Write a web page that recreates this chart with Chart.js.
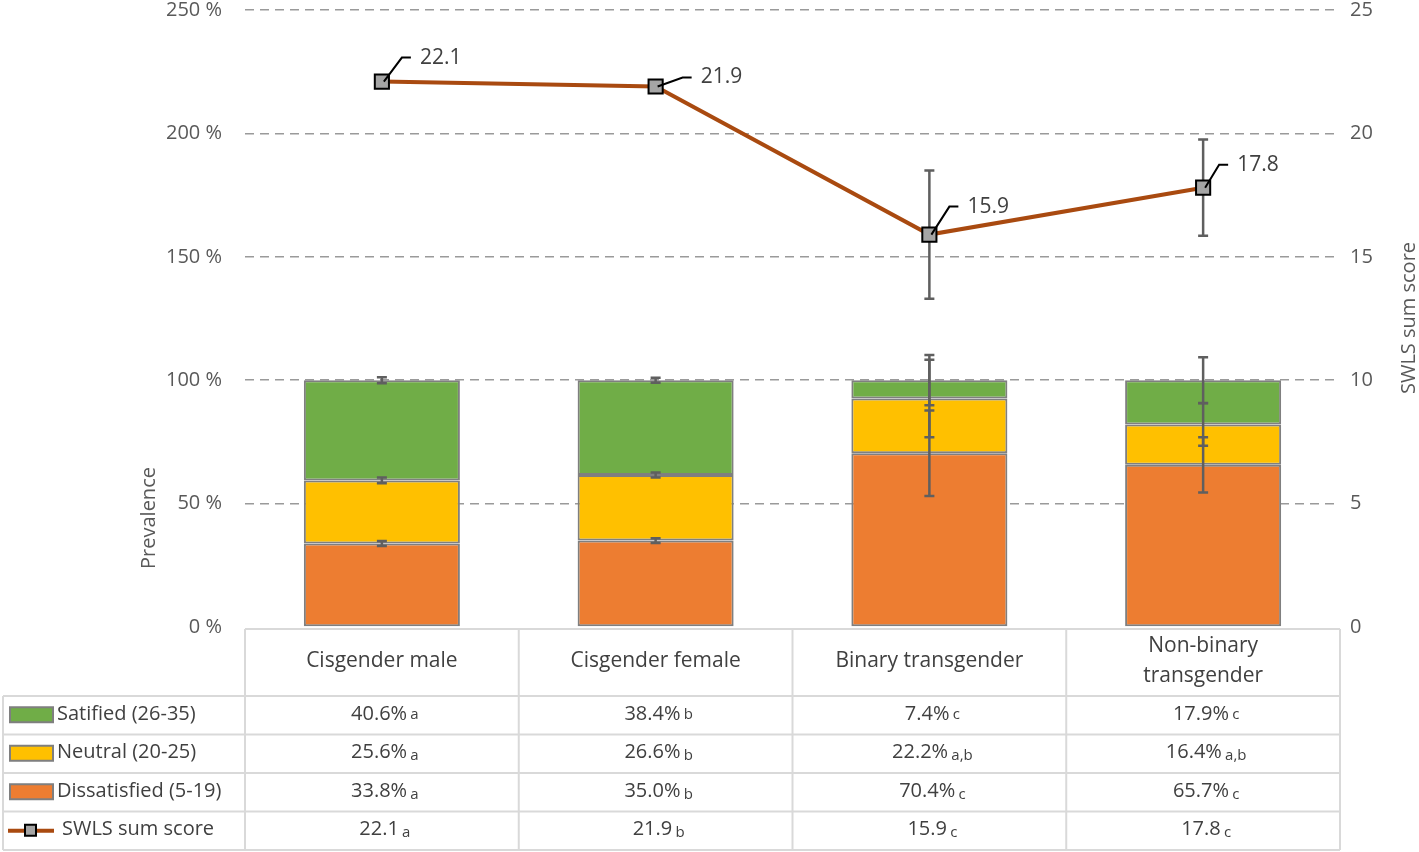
<!DOCTYPE html>
<html>
<head>
<meta charset="utf-8">
<script src="https://cdn.jsdelivr.net/npm/chart.js@4.4.1/dist/chart.umd.min.js"></script>
<style>
  html, body { margin: 0; padding: 0; background: #fff; }
  #wrap { width: 1419px; height: 852px; }
</style>
</head>
<body>
<div id="wrap"><canvas id="chart" width="1419" height="852"></canvas></div>
<script>
// data
const categories = ["Cisgender male", "Cisgender female", "Binary transgender", "Non-binary transgender"];
const headerLines = [["Cisgender male"], ["Cisgender female"], ["Binary transgender"], ["Non-binary", "transgender"]];

const dissatisfied = [33.8, 35.0, 70.4, 65.7];
const neutral = [25.6, 26.6, 22.2, 16.4];
const satisfied = [40.6, 38.4, 7.4, 17.9];
const swls = [22.1, 21.9, 15.9, 17.8];

const dissatisfiedErr = [1.0, 1.0, 17.3, 11.2];
const neutralErr = [1.2, 1.0, 15.7, 8.7];
const satisfiedErr = [1.2, 1.0, 10.2, 9.3];
const swlsErr = [0, 0, 2.6, 1.95];

const satisfiedSig = ["a", "b", "c", "c"];
const neutralSig = ["a", "b", "a,b", "a,b"];
const dissatisfiedSig = ["a", "b", "c", "c"];
const swlsSig = ["a", "b", "c", "c"];

const leftTicks = [0, 50, 100, 150, 200, 250];
const rightTicks = [0, 5, 10, 15, 20, 25];

const GREEN = "#70AD47", YELLOW = "#FFC000", ORANGE = "#ED7D31";
const LINE = "#A94A10", MARKER = "#A5A5A5", EDGE = "#7F7F7F";
const TXT = "#404040", TICK = "#595959", ERR = "#5f5f5f";
const FONT = "'Open Sans', sans-serif";

Chart.defaults.font.family = FONT;

function fmtPct(v) { return v.toFixed(1) + "%"; }

// error bars, drawn after the bars and before the line
const errorBars = {
  id: "errorBars",
  beforeDatasetDraw(chart, args) {
    if (args.index !== 3) return;
    const ctx = chart.ctx, x = chart.scales.x, y = chart.scales.y, y1 = chart.scales.y1;
    ctx.save();
    ctx.strokeStyle = ERR;
    ctx.lineWidth = 2.5;
    function bar(px, lo, hi) {
      ctx.beginPath();
      ctx.moveTo(px, lo); ctx.lineTo(px, hi);
      ctx.moveTo(px - 5, lo); ctx.lineTo(px + 5, lo);
      ctx.moveTo(px - 5, hi); ctx.lineTo(px + 5, hi);
      ctx.stroke();
    }
    categories.forEach(function (c, i) {
      const px = x.getPixelForValue(i);
      const tops = [dissatisfied[i], dissatisfied[i] + neutral[i], dissatisfied[i] + neutral[i] + satisfied[i]];
      const errs = [dissatisfiedErr[i], neutralErr[i], satisfiedErr[i]];
      tops.forEach(function (t, k) {
        bar(px, y.getPixelForValue(t - errs[k]), y.getPixelForValue(t + errs[k]));
      });
      if (swlsErr[i] > 0) {
        bar(px, y1.getPixelForValue(swls[i] - swlsErr[i]), y1.getPixelForValue(swls[i] + swlsErr[i]));
      }
    });
    ctx.restore();
  }
};

// callout labels on the SWLS line (Excel style leader lines)
const lineLabels = {
  id: "lineLabels",
  afterDatasetsDraw(chart) {
    const ctx = chart.ctx;
    const meta = chart.getDatasetMeta(3);
    const elbows = [[20, -24], [27, -9], [20, -28], [16, -23]];
    ctx.save();
    ctx.strokeStyle = "#000";
    ctx.lineWidth = 2;
    ctx.fillStyle = TXT;
    ctx.font = "21px " + FONT;
    ctx.textAlign = "left";
    ctx.textBaseline = "middle";
    meta.data.forEach(function (pt, i) {
      const ex = pt.x + elbows[i][0], ey = pt.y + elbows[i][1];
      ctx.beginPath();
      ctx.moveTo(pt.x + 2, pt.y);
      ctx.lineTo(ex, ey);
      ctx.lineTo(ex + 9, ey);
      ctx.stroke();
      ctx.fillText(swls[i].toFixed(1), ex + 18, ey);
    });
    ctx.restore();
  }
};

// axis titles
const axisTitles = {
  id: "axisTitles",
  afterDraw(chart) {
    const ctx = chart.ctx;
    ctx.save();
    ctx.fillStyle = TICK;
    ctx.font = "20px " + FONT;
    ctx.textAlign = "center";
    ctx.textBaseline = "middle";
    ctx.translate(149, 518);
    ctx.rotate(-Math.PI / 2);
    ctx.fillText("Prevalence", 0, 0);
    ctx.restore();
    ctx.save();
    ctx.fillStyle = TICK;
    ctx.font = "20px " + FONT;
    ctx.textAlign = "center";
    ctx.textBaseline = "middle";
    ctx.translate(1409, 318);
    ctx.rotate(-Math.PI / 2);
    ctx.fillText("SWLS sum score", 0, 0);
    ctx.restore();
  }
};

// data table under the plot
const dataTable = {
  id: "dataTable",
  afterDraw(chart) {
    const ctx = chart.ctx, a = chart.chartArea;
    const n = categories.length;
    const colW = (a.right - a.left) / n;
    const headTop = a.bottom + 2, headBottom = 696, rowH = 38.5;
    const rowsBottom = headBottom + 4 * rowH;
    ctx.save();
    ctx.strokeStyle = "#D9D9D9";
    ctx.lineWidth = 2;
    ctx.beginPath();
    ctx.moveTo(a.left, headTop); ctx.lineTo(a.right, headTop);
    for (let r = 0; r <= 4; r++) {
      ctx.moveTo(3, headBottom + r * rowH); ctx.lineTo(a.right, headBottom + r * rowH);
    }
    for (let k = 0; k <= n; k++) {
      ctx.moveTo(a.left + k * colW, headTop); ctx.lineTo(a.left + k * colW, rowsBottom);
    }
    ctx.moveTo(3, headBottom); ctx.lineTo(3, rowsBottom);
    ctx.stroke();

    ctx.fillStyle = TXT;
    ctx.textBaseline = "middle";
    ctx.textAlign = "center";
    ctx.font = "21px " + FONT;
    headerLines.forEach(function (lines, i) {
      const cx = a.left + (i + 0.5) * colW;
      const cy = (headTop + headBottom) / 2 - 1;
      lines.forEach(function (l, j) {
        ctx.fillText(l, cx, cy + (j - (lines.length - 1) / 2) * 30);
      });
    });

    const rows = [
      { label: "Satified (26-35)", color: GREEN, vals: satisfied.map(fmtPct), sig: satisfiedSig },
      { label: "Neutral (20-25)", color: YELLOW, vals: neutral.map(fmtPct), sig: neutralSig },
      { label: "Dissatisfied (5-19)", color: ORANGE, vals: dissatisfied.map(fmtPct), sig: dissatisfiedSig },
      { label: "SWLS sum score", color: null, vals: swls.map(function (v) { return v.toFixed(1); }), sig: swlsSig }
    ];
    rows.forEach(function (row, r) {
      const cy = headBottom + (r + 0.5) * rowH - 1;
      ctx.textAlign = "left";
      if (row.color) {
        ctx.fillStyle = row.color;
        ctx.fillRect(10, cy - 7, 43, 15);
        ctx.strokeStyle = EDGE;
        ctx.lineWidth = 2;
        ctx.strokeRect(10, cy - 7, 43, 15);
        ctx.fillStyle = TXT;
        ctx.font = "20px " + FONT;
        ctx.fillText(row.label, 57, cy);
      } else {
        ctx.strokeStyle = LINE;
        ctx.lineWidth = 4;
        ctx.beginPath();
        ctx.moveTo(8, cy + 1); ctx.lineTo(54, cy + 1);
        ctx.stroke();
        ctx.fillStyle = MARKER;
        ctx.fillRect(25, cy - 5, 11, 11);
        ctx.strokeStyle = "#000";
        ctx.lineWidth = 2;
        ctx.strokeRect(25, cy - 5, 11, 11);
        ctx.fillStyle = TXT;
        ctx.font = "20px " + FONT;
        ctx.fillText(row.label, 62, cy);
      }
      row.vals.forEach(function (v, i) {
        const cx = a.left + (i + 0.5) * colW;
        ctx.font = "20px " + FONT;
        const w1 = ctx.measureText(v + " ").width;
        ctx.font = "15px " + FONT;
        const w2 = ctx.measureText(row.sig[i]).width;
        const x0 = cx - (w1 + w2) / 2 + 4;
        ctx.fillStyle = TXT;
        ctx.font = "20px " + FONT;
        ctx.fillText(v, x0, cy);
        ctx.font = "15px " + FONT;
        ctx.fillText(row.sig[i], x0 + w1 - 2, cy + (r === 0 ? 0 : 3));
      });
    });
    ctx.restore();
  }
};

// keep the plot box fixed: no extra room for the edge tick labels
function fixVertical(width) {
  return function (s) {
    s.width = width;
    s.paddingTop = 0;
    s.paddingBottom = 0;
  };
}

new Chart(document.getElementById("chart"), {
  type: "bar",
  data: {
    labels: categories,
    datasets: [
      { label: "Dissatisfied (5-19)", data: dissatisfied, backgroundColor: ORANGE, borderColor: EDGE, borderWidth: 2, borderSkipped: false, order: 1, yAxisID: "y" },
      { label: "Neutral (20-25)", data: neutral, backgroundColor: YELLOW, borderColor: EDGE, borderWidth: 2, borderSkipped: false, order: 1, yAxisID: "y" },
      { label: "Satified (26-35)", data: satisfied, backgroundColor: GREEN, borderColor: EDGE, borderWidth: 2, borderSkipped: false, order: 1, yAxisID: "y" },
      {
        type: "line", label: "SWLS sum score", data: swls, yAxisID: "y1", order: 0,
        borderColor: LINE, borderWidth: 4, tension: 0,
        pointStyle: "rect", pointRadius: 10, pointBackgroundColor: MARKER,
        pointBorderColor: "#000", pointBorderWidth: 2
      }
    ]
  },
  options: {
    responsive: false,
    animation: false,
    layout: { autoPadding: false, padding: { top: 10, bottom: 225, left: 0, right: 0 } },
    plugins: {
      legend: { display: false },
      tooltip: { enabled: false }
    },
    datasets: {
      bar: { barPercentage: 0.57, categoryPercentage: 1 }
    },
    scales: {
      x: {
        stacked: true,
        display: false
      },
      y: {
        stacked: true,
        min: 0, max: 250,
        afterFit: fixVertical(245),
        afterBuildTicks: function (s) { s.ticks = leftTicks.map(function (v) { return { value: v }; }); },
        ticks: {
          color: TICK, padding: 23, font: { size: 20 },
          callback: function (v) { return v + " %"; }
        },
        grid: {
          drawTicks: false,
          lineWidth: 1.5,
          color: function (c) { return c.tick && c.tick.value === 0 ? "rgba(0,0,0,0)" : "#9a9a9a"; }
        },
        border: { display: false, dash: [9, 6] }
      },
      y1: {
        position: "right",
        min: 0, max: 25,
        afterFit: fixVertical(1419 - 1340),
        afterBuildTicks: function (s) { s.ticks = rightTicks.map(function (v) { return { value: v }; }); },
        ticks: { color: TICK, padding: 10, font: { size: 20 } },
        grid: { drawOnChartArea: false, drawTicks: false },
        border: { display: false }
      }
    }
  },
  plugins: [errorBars, lineLabels, axisTitles, dataTable]
});
</script>
</body>
</html>
